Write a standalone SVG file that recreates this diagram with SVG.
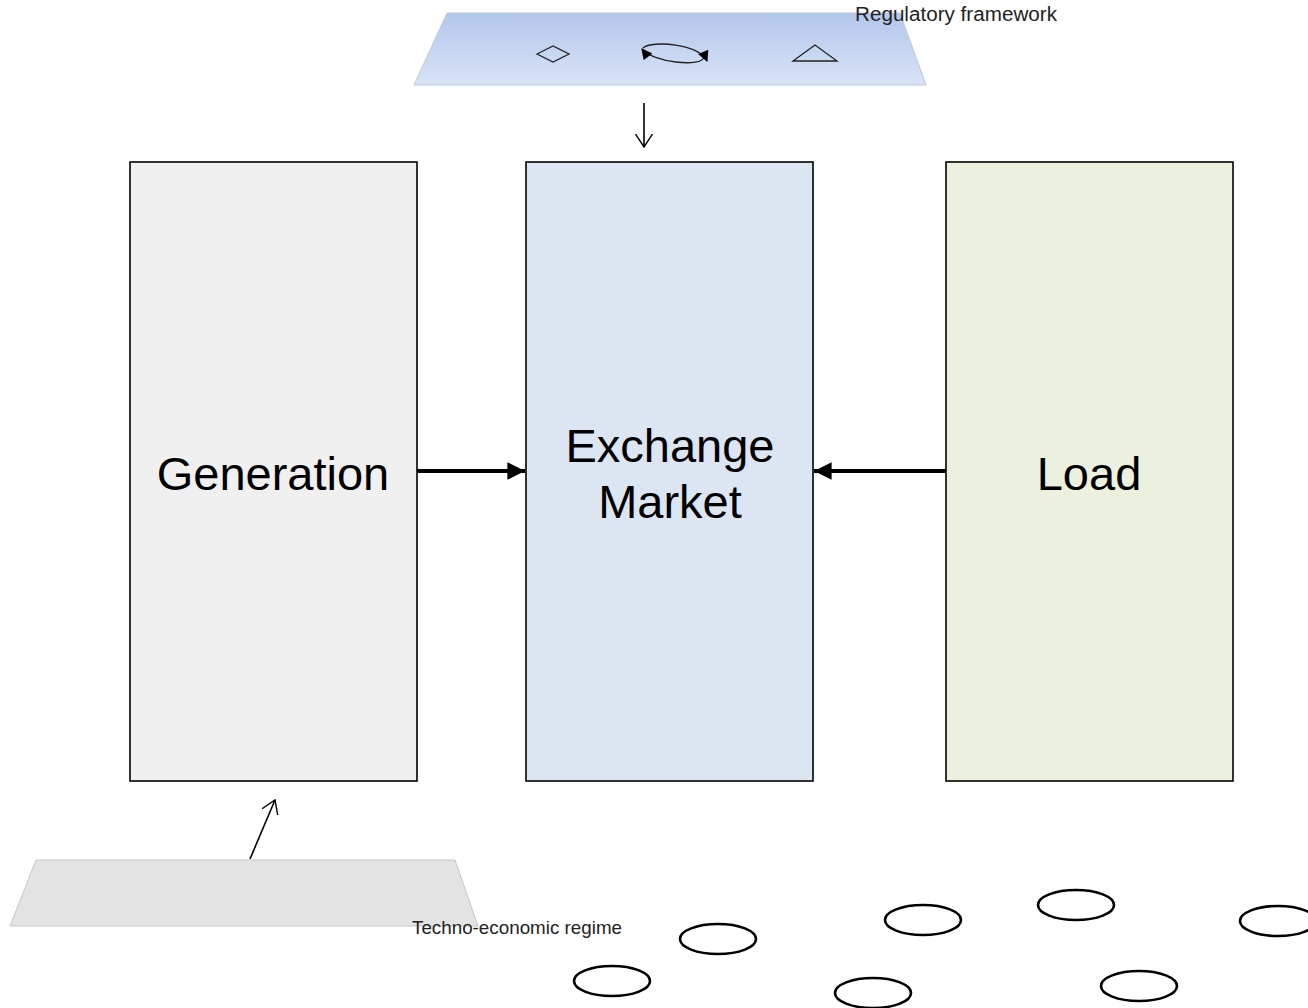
<svg xmlns="http://www.w3.org/2000/svg" width="1308" height="1008" viewBox="0 0 1308 1008">
<style>
.box{stroke:#000;stroke-width:1.6}
.big{font-family:"Liberation Sans",Arial,sans-serif;font-size:47px;fill:#000;text-anchor:middle}
.small{font-family:"Liberation Sans",Arial,sans-serif;fill:#222}
.thin{fill:none;stroke:#000;stroke-width:1.6}
.thick{fill:none;stroke:#000;stroke-width:4.2}
.oval{fill:none;stroke:#000;stroke-width:2.6}
</style>
<defs>
<linearGradient id="reg" x1="0" y1="0" x2="0" y2="1">
<stop offset="0" stop-color="#b3c7ec"/>
<stop offset="1" stop-color="#d8e3f5"/>
</linearGradient>
<marker id="solid" viewBox="0 0 10 10" refX="10" refY="5" markerWidth="4.4" markerHeight="4.2" orient="auto" markerUnits="strokeWidth">
<path d="M0,0 L10,5 L0,10 z" fill="#000"/>
</marker>
<marker id="open" viewBox="0 0 14 18" refX="13" refY="9" markerWidth="14" markerHeight="18" orient="auto" markerUnits="userSpaceOnUse">
<path d="M0,0.5 L13,9 L0,17.5" fill="none" stroke="#000" stroke-width="1.4"/>
</marker>
<marker id="tri" viewBox="0 0 10 10" refX="9" refY="5" markerWidth="12" markerHeight="11" orient="auto" markerUnits="userSpaceOnUse">
<path d="M0,0 L10,5 L0,10 z" fill="#000"/>
</marker>
</defs>

<g id="regulatory-framework">
<polygon points="447,13 900,13 926,85 414,85" fill="url(#reg)" stroke="#c0c8d8" stroke-width="1"/>
<polygon points="537,54 553,46 569,54 553,62" fill="none" stroke="#222" stroke-width="1.3"/>
<polygon points="793,61 815,45 837,61" fill="none" stroke="#222" stroke-width="1.3"/>
<path d="M704,57 C702,68 652,62 642,49" fill="none" stroke="#222" stroke-width="1.3" marker-end="url(#tri)"/>
<path d="M643,48 C652,40 700,44 707,61" fill="none" stroke="#222" stroke-width="1.3" marker-end="url(#tri)"/>
<text class="small" x="855" y="21" font-size="20" textLength="202" lengthAdjust="spacingAndGlyphs">Regulatory framework</text>
</g>

<g id="techno-economic-regime">
<polygon points="36,860 455,860 478,926 10,926" fill="#e3e3e3" stroke="#c6c6c6" stroke-width="1"/>
<text class="small" x="412" y="934" font-size="18.5" textLength="210" lengthAdjust="spacingAndGlyphs">Techno-economic regime</text>
</g>

<g id="generation">
<rect class="box" x="130" y="162" width="287" height="619" fill="#f0f0f0"/>
<text class="big" x="273" y="490">Generation</text>
</g>

<g id="exchange-market">
<rect class="box" x="526" y="162" width="287" height="619" fill="#dce6f2"/>
<text class="big" x="670" y="462">Exchange</text>
<text class="big" x="670" y="518">Market</text>
</g>

<g id="load">
<rect class="box" x="946" y="162" width="287" height="619" fill="#ebf1de"/>
<text class="big" x="1089" y="490">Load</text>
</g>

<g id="connectors">
<line class="thick" x1="417" y1="471" x2="525" y2="471" marker-end="url(#solid)"/>
<line class="thick" x1="946" y1="471" x2="814" y2="471" marker-end="url(#solid)"/>
<line class="thin" x1="644" y1="103" x2="644" y2="147" marker-end="url(#open)"/>
<line class="thin" x1="250" y1="859" x2="275" y2="800" marker-end="url(#open)"/>
</g>

<g id="ovals">
<ellipse class="oval" cx="718" cy="939" rx="38" ry="15"/>
<ellipse class="oval" cx="612" cy="981" rx="38" ry="15"/>
<ellipse class="oval" cx="923" cy="920" rx="38" ry="15"/>
<ellipse class="oval" cx="1076" cy="905" rx="38" ry="15"/>
<ellipse class="oval" cx="873" cy="993" rx="38" ry="15"/>
<ellipse class="oval" cx="1139" cy="986" rx="38" ry="15"/>
<ellipse class="oval" cx="1278" cy="921" rx="38" ry="15"/>
</g>
</svg>
